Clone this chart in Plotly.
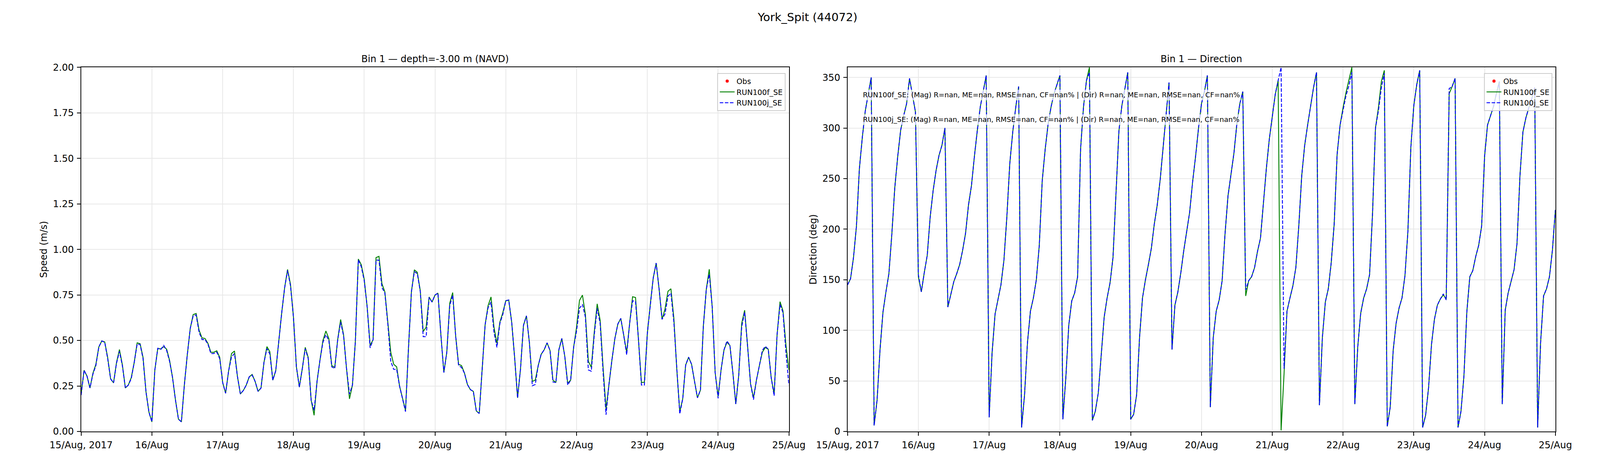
import pandas as pd
import plotly.graph_objects as go

# hourly model output, 15/Aug/2017 00:00 -> 25/Aug/2017 00:00
start_time = "2017-08-15 00:00"
n_hours = 241

speed_f = [
    0.206, 0.336, 0.304, 0.239, 0.320, 0.369, 0.464, 0.497, 0.492, 0.407, 0.289, 0.267,
    0.379, 0.450, 0.365, 0.239, 0.255, 0.296, 0.379, 0.487, 0.482, 0.407, 0.217, 0.106,
    0.053, 0.338, 0.457, 0.453, 0.466, 0.452, 0.390, 0.296, 0.172, 0.068, 0.053, 0.255,
    0.421, 0.566, 0.642, 0.648, 0.556, 0.514, 0.511, 0.484, 0.435, 0.435, 0.443, 0.407,
    0.269, 0.210, 0.331, 0.428, 0.442, 0.303, 0.206, 0.225, 0.255, 0.300, 0.313, 0.275,
    0.220, 0.239, 0.379, 0.466, 0.438, 0.282, 0.334, 0.497, 0.649, 0.788, 0.890, 0.808,
    0.628, 0.355, 0.244, 0.345, 0.462, 0.407, 0.172, 0.089, 0.275, 0.393, 0.500, 0.552,
    0.511, 0.362, 0.352, 0.504, 0.615, 0.531, 0.345, 0.179, 0.255, 0.497, 0.947, 0.916,
    0.836, 0.684, 0.473, 0.504, 0.955, 0.962, 0.812, 0.767, 0.601, 0.435, 0.369, 0.355,
    0.248, 0.179, 0.116, 0.455, 0.767, 0.888, 0.874, 0.774, 0.549, 0.573, 0.739, 0.711,
    0.749, 0.760, 0.530, 0.324, 0.435, 0.705, 0.763, 0.525, 0.369, 0.362, 0.320, 0.258,
    0.230, 0.220, 0.113, 0.099, 0.345, 0.587, 0.691, 0.739, 0.573, 0.483, 0.601, 0.653,
    0.718, 0.722, 0.601, 0.407, 0.185, 0.345, 0.583, 0.635, 0.490, 0.275, 0.282, 0.362,
    0.424, 0.448, 0.487, 0.445, 0.282, 0.269, 0.448, 0.511, 0.414, 0.265, 0.282, 0.462,
    0.573, 0.720, 0.749, 0.642, 0.386, 0.352, 0.545, 0.701, 0.611, 0.352, 0.123, 0.262,
    0.393, 0.511, 0.590, 0.621, 0.531, 0.435, 0.594, 0.740, 0.736, 0.504, 0.269, 0.270,
    0.538, 0.698, 0.843, 0.925, 0.781, 0.616, 0.673, 0.770, 0.784, 0.621, 0.338, 0.109,
    0.179, 0.365, 0.408, 0.369, 0.275, 0.185, 0.227, 0.580, 0.781, 0.891, 0.684, 0.324,
    0.192, 0.338, 0.448, 0.490, 0.473, 0.324, 0.151, 0.310, 0.594, 0.666, 0.469, 0.262,
    0.185, 0.282, 0.362, 0.435, 0.461, 0.452, 0.296, 0.206, 0.531, 0.713, 0.663, 0.476,
    0.338,
]

speed_j = [
    0.200, 0.336, 0.304, 0.239, 0.315, 0.362, 0.464, 0.497, 0.490, 0.400, 0.289, 0.267,
    0.375, 0.440, 0.360, 0.239, 0.255, 0.290, 0.379, 0.480, 0.478, 0.400, 0.217, 0.106,
    0.053, 0.338, 0.457, 0.450, 0.473, 0.445, 0.385, 0.296, 0.172, 0.068, 0.053, 0.255,
    0.421, 0.566, 0.635, 0.640, 0.545, 0.505, 0.505, 0.480, 0.428, 0.428, 0.436, 0.400,
    0.269, 0.210, 0.331, 0.410, 0.428, 0.303, 0.206, 0.225, 0.255, 0.300, 0.310, 0.275,
    0.220, 0.239, 0.379, 0.455, 0.425, 0.282, 0.334, 0.497, 0.649, 0.788, 0.885, 0.800,
    0.628, 0.355, 0.244, 0.345, 0.455, 0.400, 0.172, 0.116, 0.275, 0.393, 0.490, 0.531,
    0.500, 0.355, 0.345, 0.504, 0.601, 0.525, 0.345, 0.206, 0.255, 0.497, 0.943, 0.905,
    0.829, 0.684, 0.459, 0.504, 0.941, 0.941, 0.791, 0.760, 0.590, 0.386, 0.341, 0.341,
    0.248, 0.179, 0.109, 0.455, 0.767, 0.878, 0.867, 0.770, 0.521, 0.521, 0.736, 0.711,
    0.749, 0.760, 0.530, 0.324, 0.435, 0.691, 0.749, 0.525, 0.362, 0.352, 0.320, 0.258,
    0.230, 0.220, 0.113, 0.099, 0.345, 0.587, 0.680, 0.711, 0.545, 0.462, 0.594, 0.643,
    0.718, 0.722, 0.601, 0.407, 0.185, 0.345, 0.583, 0.635, 0.490, 0.251, 0.258, 0.362,
    0.424, 0.448, 0.487, 0.445, 0.272, 0.269, 0.448, 0.511, 0.414, 0.255, 0.282, 0.462,
    0.552, 0.677, 0.698, 0.628, 0.338, 0.331, 0.530, 0.677, 0.594, 0.325, 0.092, 0.262,
    0.393, 0.511, 0.590, 0.621, 0.528, 0.421, 0.594, 0.718, 0.714, 0.504, 0.255, 0.255,
    0.538, 0.698, 0.843, 0.925, 0.781, 0.616, 0.646, 0.743, 0.760, 0.600, 0.338, 0.096,
    0.179, 0.365, 0.408, 0.369, 0.275, 0.185, 0.227, 0.580, 0.781, 0.864, 0.684, 0.324,
    0.182, 0.338, 0.448, 0.497, 0.473, 0.324, 0.151, 0.310, 0.574, 0.656, 0.469, 0.262,
    0.175, 0.282, 0.362, 0.445, 0.468, 0.452, 0.296, 0.196, 0.531, 0.698, 0.653, 0.435,
    0.255,
]

dir_f = [
    145, 151, 172, 203, 260, 291, 317, 334, 350, 6, 31, 81,
    118, 138, 156, 195, 241, 272, 298, 312, 324, 349, 333, 316,
    153, 138, 157, 174, 212, 238, 258, 273, 283, 300, 123, 136,
    148, 156, 165, 179, 196, 224, 243, 272, 298, 321, 336, 352,
    14, 78, 116, 131, 145, 169, 212, 265, 296, 320, 341, 4,
    36, 88, 119, 132, 150, 184, 248, 279, 304, 321, 334, 343,
    352, 12, 53, 105, 129, 137, 153, 279, 321, 347, 360, 11,
    20, 38, 76, 113, 132, 147, 172, 234, 297, 322, 339, 355,
    12, 17, 36, 93, 132, 150, 165, 181, 205, 224, 249, 281,
    315, 345, 81, 125, 138, 157, 179, 198, 217, 247, 272, 300,
    324, 336, 352, 24, 93, 119, 130, 149, 196, 233, 255, 275,
    304, 324, 336, 134, 149, 153, 162, 178, 191, 224, 260, 289,
    312, 333, 347, 1, 57, 119, 132, 144, 162, 203, 253, 283,
    303, 321, 340, 355, 26, 93, 128, 141, 167, 205, 274, 303,
    320, 335, 347, 360, 27, 84, 117, 132, 141, 155, 215, 300,
    320, 346, 357, 5, 24, 80, 107, 122, 132, 154, 198, 281,
    322, 343, 357, 4, 16, 43, 86, 111, 125, 131, 135, 131,
    334, 341, 349, 4, 20, 55, 119, 153, 159, 173, 184, 203,
    272, 303, 312, 321, 334, 346, 27, 120, 137, 148, 160, 186,
    253, 296, 310, 320, 329, 340, 4, 88, 134, 141, 153, 179,
    219,
]

dir_j = [
    145, 151, 172, 203, 260, 291, 317, 334, 350, 6, 31, 81,
    118, 138, 156, 195, 241, 272, 298, 312, 324, 349, 333, 316,
    155, 138, 157, 174, 212, 238, 258, 273, 283, 300, 123, 136,
    148, 156, 165, 179, 196, 224, 243, 272, 298, 321, 336, 352,
    14, 78, 116, 131, 145, 169, 212, 265, 296, 320, 341, 4,
    36, 88, 119, 132, 150, 184, 248, 279, 304, 321, 334, 343,
    352, 12, 53, 105, 129, 137, 153, 279, 321, 347, 355, 11,
    20, 38, 76, 113, 132, 147, 172, 234, 297, 322, 339, 355,
    12, 17, 36, 93, 132, 150, 165, 181, 205, 224, 249, 281,
    315, 345, 81, 125, 138, 157, 179, 198, 217, 247, 272, 300,
    324, 336, 352, 24, 93, 119, 130, 149, 196, 233, 255, 275,
    304, 324, 336, 140, 149, 153, 162, 178, 191, 224, 260, 289,
    312, 333, 347, 360, 62, 119, 132, 144, 162, 203, 253, 283,
    303, 321, 340, 355, 26, 93, 128, 141, 167, 205, 274, 303,
    317, 332, 342, 355, 27, 84, 117, 132, 141, 155, 215, 300,
    317, 340, 354, 5, 24, 80, 107, 122, 132, 154, 198, 281,
    322, 343, 357, 4, 16, 43, 86, 111, 125, 131, 136, 130,
    339, 341, 349, 4, 20, 55, 119, 153, 159, 173, 184, 203,
    272, 303, 312, 321, 334, 346, 27, 120, 137, 148, 160, 186,
    253, 296, 310, 320, 329, 340, 4, 88, 134, 141, 153, 179,
    219,
]

tick_days = ["2017-08-%02d" % d for d in range(15, 26)]
tick_text = ["15/Aug, 2017", "16/Aug", "17/Aug", "18/Aug", "19/Aug", "20/Aug",
             "21/Aug", "22/Aug", "23/Aug", "24/Aug", "25/Aug"]

stats_lines = [
    "RUN100f_SE: (Mag) R=nan, ME=nan, RMSE=nan, CF=nan% | (Dir) R=nan, ME=nan, RMSE=nan, CF=nan%",
    "RUN100j_SE: (Mag) R=nan, ME=nan, RMSE=nan, CF=nan% | (Dir) R=nan, ME=nan, RMSE=nan, CF=nan%",
]

times = pd.date_range(start_time, periods=n_hours, freq="h")

FONT = "DejaVu Sans"
y_dom = [0.064, 0.870]
x_dom_left = [0.030, 0.488]
x_dom_right = [0.526, 0.984]

fig = go.Figure()


def add_panel(xa, ya, leg, f_vals, j_vals):
    fig.add_trace(go.Scatter(x=[None], y=[None], mode="markers", name="Obs",
                             marker=dict(color="red", size=8),
                             xaxis=xa, yaxis=ya, legend=leg))
    fig.add_trace(go.Scatter(x=times, y=f_vals, mode="lines", name="RUN100f_SE",
                             line=dict(color="green", width=2.3),
                             xaxis=xa, yaxis=ya, legend=leg))
    fig.add_trace(go.Scatter(x=times, y=j_vals, mode="lines", name="RUN100j_SE",
                             line=dict(color="blue", width=2.3, dash="9px,4px"),
                             xaxis=xa, yaxis=ya, legend=leg))


add_panel("x", "y", "legend", speed_f, speed_j)
add_panel("x2", "y2", "legend2", dir_f, dir_j)

axis_common = dict(
    showline=True, linecolor="black", linewidth=1.8, mirror=True,
    ticks="outside", ticklen=9, tickwidth=1.8, tickcolor="black",
    showgrid=True, gridcolor="#e8e8e8", gridwidth=1.8, zeroline=False,
    tickfont=dict(family=FONT, size=24, color="black"),
    ticklabelstandoff=3,
)

x_common = dict(axis_common, type="date",
                range=[tick_days[0], tick_days[-1]],
                tickvals=tick_days, ticktext=tick_text)

legend_common = dict(
    font=dict(family=FONT, size=19, color="black"),
    bgcolor="rgba(255,255,255,0.8)", bordercolor="#cccccc", borderwidth=1.8,
    xanchor="right", yanchor="top", itemwidth=38, tracegroupgap=0,
)

fig.update_layout(
    autosize=True,
    margin=dict(l=0, r=0, t=0, b=0),
    paper_bgcolor="white", plot_bgcolor="white",
    font=dict(family=FONT, color="black"),
    showlegend=True,
    xaxis=dict(x_common, domain=x_dom_left, anchor="y"),
    yaxis=dict(axis_common, domain=y_dom, anchor="x", range=[0, 2],
               dtick=0.25, tickformat=".2f",
               title=dict(text="Speed (m/s)", standoff=8,
                          font=dict(family=FONT, size=24))),
    xaxis2=dict(x_common, domain=x_dom_right, anchor="y2"),
    yaxis2=dict(axis_common, domain=y_dom, anchor="x2", range=[0, 360],
                dtick=50,
                title=dict(text="Direction (deg)", standoff=8,
                           font=dict(family=FONT, size=24))),
    legend=dict(legend_common, x=0.4858, y=0.8575),
    legend2=dict(legend_common, x=0.982, y=0.8575),
)

# figure title and panel titles
fig.add_annotation(text="York_Spit (44072)", xref="paper", yref="paper",
                   x=0.5, y=0.981, xanchor="center", yanchor="middle",
                   showarrow=False, font=dict(family=FONT, size=29))
fig.add_annotation(text="Bin 1 \u2014 depth=-3.00 m (NAVD)", xref="x domain", yref="paper",
                   x=0.5, y=0.888, xanchor="center", yanchor="middle",
                   showarrow=False, font=dict(family=FONT, size=24))
fig.add_annotation(text="Bin 1 \u2014 Direction", xref="x2 domain", yref="paper",
                   x=0.5, y=0.888, xanchor="center", yanchor="middle",
                   showarrow=False, font=dict(family=FONT, size=24))

# skill score text boxes in direction panel
for txt, yy in zip(stats_lines, [0.924, 0.857]):
    fig.add_annotation(text=txt, xref="x2 domain", yref="y2 domain",
                       x=0.0197, y=yy, xanchor="left", yanchor="middle",
                       showarrow=False, bgcolor="rgba(255,255,255,0.7)",
                       borderpad=2,
                       font=dict(family=FONT, size=18, color="black"))

fig.write_html("out.html")
